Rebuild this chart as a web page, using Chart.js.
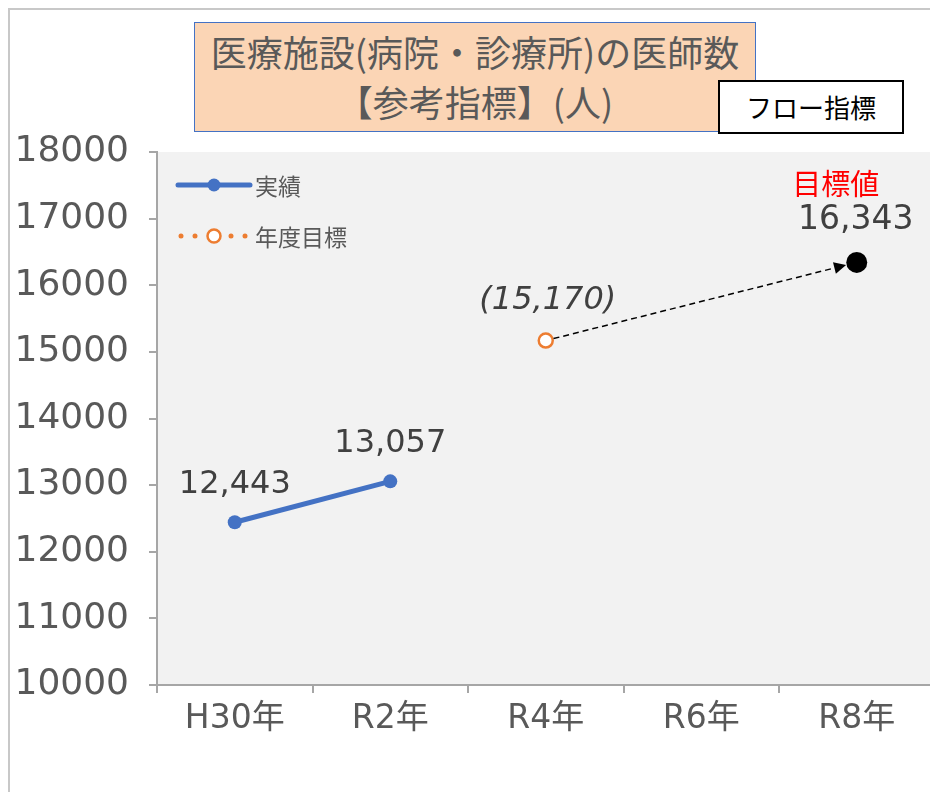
<!DOCTYPE html>
<html>
<head>
<meta charset="utf-8">
<script src="https://cdn.jsdelivr.net/npm/chart.js@4.4.1/dist/chart.umd.min.js"></script>
<style>
body{margin:0;width:930px;height:792px;overflow:hidden;background:#fff;position:relative;font-family:"Noto Sans CJK JP",sans-serif;}
#frame{position:absolute;left:8px;top:8px;width:1000px;height:1000px;border-left:2px solid #c8c8c8;border-top:2px solid #c8c8c8;}
#wrap{position:absolute;left:0;top:0;width:945px;height:792px;}
#title{position:absolute;left:194px;top:22px;width:560px;height:105px;background:#fbd5b5;border:1.5px solid #4472c4;color:#595959;font-size:36px;line-height:50px;text-align:center;padding-top:3px;white-space:nowrap;}
#flow{position:absolute;left:718px;top:80px;width:182px;height:50px;background:#fff;border:2px solid #000;color:#000;font-size:26px;line-height:50px;text-align:center;}
</style>
</head>
<body>
<div id="frame"></div>
<div id="wrap"><canvas id="myChart"></canvas></div>
<div id="title">医療施設(病院・診療所)の医師数<br>【参考指標】(人)</div>
<div id="flow">フロー指標</div>
<script>
// 医師数 実績・年度目標・目標値
var labels = ['H30年', 'R2年', 'R4年', 'R6年', 'R8年'];
var actual = [12443, 13057, null, null, null];   // 実績
var target = [null, null, 15170, null, null];    // 年度目標
var goal = [null, null, null, null, 16343];      // 目標値
var yMin = 10000, yMax = 18000, yStep = 1000;

var FONT = '"Noto Sans CJK JP", sans-serif';
var NUM = '"DejaVu Sans", "Noto Sans CJK JP", sans-serif';

// 背景
var bgPlugin = {
    id: 'bg',
    beforeDraw: function(chart){
        var a = chart.chartArea, ctx = chart.ctx;
        ctx.save();
        ctx.fillStyle = '#f2f2f2';
        ctx.fillRect(a.left, a.top, a.right - a.left, a.bottom - a.top);
        ctx.restore();
    }
};

// 矢印・ラベル・凡例
var extraPlugin = {
    id: 'extra',
    afterDatasetsDraw: function(chart){
        var ctx = chart.ctx, a = chart.chartArea;
        var x = chart.scales.x, y = chart.scales.y;
        ctx.save();

        // 点線の矢印 (年度目標 → 目標値)
        var x1 = x.getPixelForValue(2), y1 = y.getPixelForValue(target[2]);
        var x2 = x.getPixelForValue(4), y2 = y.getPixelForValue(goal[4]);
        var ang = Math.atan2(y2 - y1, x2 - x1);
        var sx = x1 + Math.cos(ang) * 8, sy = y1 + Math.sin(ang) * 8;
        var tx = x2 - Math.cos(ang) * 11, ty = y2 - Math.sin(ang) * 11;
        var bx = tx - Math.cos(ang) * 12, by = ty - Math.sin(ang) * 12;
        ctx.strokeStyle = '#000';
        ctx.lineWidth = 1.5;
        ctx.setLineDash([6, 4]);
        ctx.beginPath();
        ctx.moveTo(sx, sy);
        ctx.lineTo(bx, by);
        ctx.stroke();
        ctx.setLineDash([]);
        ctx.fillStyle = '#000';
        ctx.beginPath();
        ctx.moveTo(tx, ty);
        ctx.lineTo(bx + Math.sin(ang) * 6, by - Math.cos(ang) * 6);
        ctx.lineTo(bx - Math.sin(ang) * 6, by + Math.cos(ang) * 6);
        ctx.closePath();
        ctx.fill();

        // データラベル
        ctx.textAlign = 'center';
        ctx.textBaseline = 'middle';
        ctx.fillStyle = '#404040';
        ctx.font = '32px ' + NUM;
        for (var i = 0; i < actual.length; i++) {
            if (actual[i] == null) continue;
            ctx.fillText(actual[i].toLocaleString('en-US'), x.getPixelForValue(i), y.getPixelForValue(actual[i]) - 38);
        }
        ctx.font = 'italic 32px ' + NUM;
        ctx.fillText('(' + target[2].toLocaleString('en-US') + ')', x1 + 2, y1 - 40);
        ctx.font = '33px ' + NUM;
        ctx.fillText(goal[4].toLocaleString('en-US'), x2 - 1, y2 - 42);
        ctx.fillStyle = '#ff0000';
        ctx.font = '29px ' + FONT;
        ctx.fillText('目標値', x2 - 21, y2 - 78);

        // 凡例
        var lx = a.left + 21, ly = a.top + 33;
        ctx.strokeStyle = '#4472c4';
        ctx.lineWidth = 5;
        ctx.lineCap = 'round';
        ctx.beginPath();
        ctx.moveTo(lx, ly);
        ctx.lineTo(lx + 72, ly);
        ctx.stroke();
        ctx.fillStyle = '#4472c4';
        ctx.beginPath();
        ctx.arc(lx + 36, ly, 6.5, 0, Math.PI * 2);
        ctx.fill();
        ctx.fillStyle = '#ed7d31';
        [3, 17, 53, 67].forEach(function(d){
            ctx.beginPath();
            ctx.arc(lx + d, ly + 51, 2.5, 0, Math.PI * 2);
            ctx.fill();
        });
        ctx.fillStyle = '#fff';
        ctx.strokeStyle = '#ed7d31';
        ctx.lineWidth = 2.5;
        ctx.beginPath();
        ctx.arc(lx + 36, ly + 51, 6.5, 0, Math.PI * 2);
        ctx.fill();
        ctx.stroke();
        ctx.fillStyle = '#595959';
        ctx.textAlign = 'left';
        ctx.font = '23px ' + FONT;
        ctx.fillText('実績', lx + 77, ly + 1);
        ctx.fillText('年度目標', lx + 77, ly + 52);
        ctx.restore();
    }
};

function initChart(){
    var el = document.getElementById('myChart');
    var myChart = new Chart(el, {
        type: 'line',
        data: {
            labels: labels,
            datasets: [{
                label: '実績',
                data: actual,
                borderColor: '#4472c4',
                backgroundColor: '#4472c4',
                borderWidth: 5,
                pointRadius: 7,
                pointBackgroundColor: '#4472c4',
                pointBorderWidth: 0
            }, {
                label: '年度目標',
                data: target,
                borderColor: '#ed7d31',
                borderDash: [2, 6],
                borderWidth: 3,
                pointRadius: 7,
                pointBackgroundColor: '#fff',
                pointBorderColor: '#ed7d31',
                pointBorderWidth: 2.5
            }, {
                label: '目標値',
                data: goal,
                borderColor: '#000',
                pointRadius: 10.5,
                pointBackgroundColor: '#000',
                pointBorderWidth: 0
            }]
        },
        options: {
            responsive: true,
            maintainAspectRatio: false,
            animation: false,
            layout: { padding: { top: 152, right: 8, left: 0, bottom: 0 } },
            plugins: {
                legend: { display: false },
                tooltip: { enabled: false }
            },
            scales: {
                x: {
                    offset: true,
                    grid: { offset: true, drawOnChartArea: false, drawTicks: true, tickLength: 8, color: '#a6a6a6', lineWidth: 2 },
                    border: { color: '#a6a6a6', width: 2 },
                    ticks: { color: '#595959', font: { family: NUM, size: 33 }, padding: 7, maxRotation: 0 },
                    afterFit: function(s){ s.height = 107; }
                },
                y: {
                    min: yMin,
                    max: yMax,
                    grid: { drawOnChartArea: false, drawTicks: true, tickLength: 8, color: '#a6a6a6', lineWidth: 2 },
                    border: { color: '#a6a6a6', width: 2 },
                    ticks: {
                        stepSize: yStep,
                        color: '#595959',
                        font: { family: NUM, size: 36 },
                        padding: 20,
                        callback: function(v){ return String(v); }
                    },
                    afterFit: function(s){ s.width = 157; }
                }
            }
        },
        plugins: [bgPlugin, extraPlugin]
    });
};

initChart();
</script>
</body>
</html>
